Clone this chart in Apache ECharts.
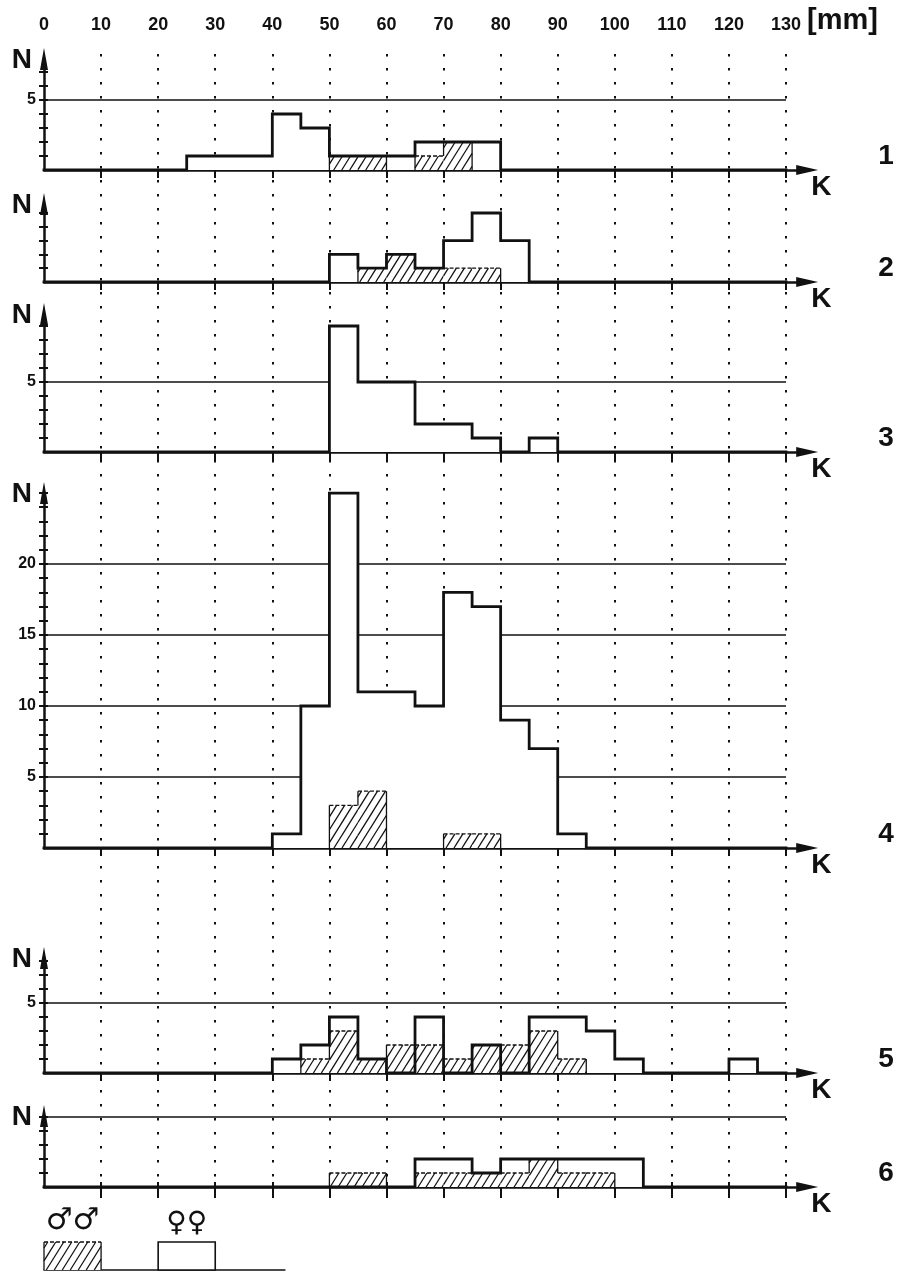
<!DOCTYPE html>
<html>
<head>
<meta charset="utf-8">
<script src="https://cdn.jsdelivr.net/npm/echarts@6/dist/echarts.min.js"></script>
<style>
html,body{margin:0;padding:0;background:#fff;}
#c{width:908px;height:1272px;}
</style>
</head>
<body>
<div id="c"></div>
<script>
// ---------------- DATA ----------------
const xTickValues = [0, 10, 20, 30, 40, 50, 60, 70, 80, 90, 100, 110, 120, 130];
const xTickLabels = ['0', '10', '20', '30', '40', '50', '60', '70', '80', '90', '100', '110', '120', '130'];
const unitLabel = '[mm]';
const binWidth = 5;
const binStarts = [0, 5, 10, 15, 20, 25, 30, 35, 40, 45, 50, 55, 60, 65, 70, 75, 80, 85, 90, 95, 100, 105, 110, 115, 120, 125];

// female (open bars) and male (hatched bars) counts per 5 mm bin
const p1Female = [0,0,0,0,0,1,1,1,4,3,1,1,1,2,2,2,0,0,0,0,0,0,0,0,0,0];
const p1Male   = [0,0,0,0,0,0,0,0,0,0,1,1,0,1,2,0,0,0,0,0,0,0,0,0,0,0];
const p2Female = [0,0,0,0,0,0,0,0,0,0,2,1,2,1,3,5,3,0,0,0,0,0,0,0,0,0];
const p2Male   = [0,0,0,0,0,0,0,0,0,0,0,1,2,1,1,1,0,0,0,0,0,0,0,0,0,0];
const p3Female = [0,0,0,0,0,0,0,0,0,0,9,5,5,2,2,1,0,1,0,0,0,0,0,0,0,0];
const p3Male   = [0,0,0,0,0,0,0,0,0,0,0,0,0,0,0,0,0,0,0,0,0,0,0,0,0,0];
const p4Female = [0,0,0,0,0,0,0,0,1,10,25,11,11,10,18,17,9,7,1,0,0,0,0,0,0,0];
const p4Male   = [0,0,0,0,0,0,0,0,0,0,3,4,0,0,1,1,0,0,0,0,0,0,0,0,0,0];
const p5Female = [0,0,0,0,0,0,0,0,1,2,4,1,0,4,0,2,0,4,4,3,1,0,0,0,1,0];
const p5Male   = [0,0,0,0,0,0,0,0,0,1,3,1,2,2,1,2,2,3,1,0,0,0,0,0,0,0];
const p6Female = [0,0,0,0,0,0,0,0,0,0,0,0,0,2,2,1,2,2,2,2,2,0,0,0,0,0];
const p6Male   = [0,0,0,0,0,0,0,0,0,0,1,1,0,1,1,1,1,2,1,1,0,0,0,0,0,0];

// y tick labels and horizontal reference lines per panel
const p1YLabels = [5],  p1Lines = [5];
const p2YLabels = [],   p2Lines = [];
const p3YLabels = [5],  p3Lines = [5];
const p4YLabels = [5, 10, 15, 20], p4Lines = [5, 10, 15, 20];
const p5YLabels = [5],  p5Lines = [5];
const p6YLabels = [],   p6Lines = [5];

const panelNames = ['1', '2', '3', '4', '5', '6'];
const yName = 'N';
const xName = 'K';
const legendLabels = ['\u2642\u2642', '\u2640\u2640'];
const legendMaleBin = [0, 10];
const legendFemaleBin = [20, 30];

// ---------------- LAYOUT ----------------
const W = 908, H = 1272;
const INK = '#111';
const FONT = '"Liberation Sans", Arial, sans-serif';
const X0 = 44;
const PXMM = 5.708;
const X_AXIS_END = 133.7;
const Y_ARROW = 22, X_ARROW = 22;
const HATCH_SLOPE = 1.6, HATCH_STEP = 8;

const panels = [
  {f: p1Female, m: p1Male, labels: p1YLabels, lines: p1Lines, tip: 48,   base: 170,  unit: 14},
  {f: p2Female, m: p2Male, labels: p2YLabels, lines: p2Lines, tip: 193,  base: 282,  unit: 13.8},
  {f: p3Female, m: p3Male, labels: p3YLabels, lines: p3Lines, tip: 303,  base: 452,  unit: 14},
  {f: p4Female, m: p4Male, labels: p4YLabels, lines: p4Lines, tip: 482,  base: 848,  unit: 14.2},
  {f: p5Female, m: p5Male, labels: p5YLabels, lines: p5Lines, tip: 947,  base: 1073, unit: 14},
  {f: p6Female, m: p6Male, labels: p6YLabels, lines: p6Lines, tip: 1105, base: 1187, unit: 14}
];

// ---------------- RENDERERS ----------------
function hatchRect(api, xs, xe, h, hp, hn) {
  const pb = api.coord([xs, 0]);
  const pt = api.coord([xe, h]);
  const x0 = pb[0], x1 = pt[0], yb = pb[1], yt = pt[1];
  const kids = [{type: 'rect', shape: {x: x0, y: yt, width: x1 - x0, height: yb - yt}, style: {fill: '#fff'}}];
  const m = HATCH_SLOPE, step = HATCH_STEP * m;
  const kmin = m * x0 + yt, kmax = m * x1 + yb;
  for (let k = Math.ceil(kmin / step) * step; k <= kmax; k += step) {
    const xa = Math.max(x0, (k - yb) / m), xb = Math.min(x1, (k - yt) / m);
    if (xb > xa + 0.3) {
      kids.push({type: 'line', shape: {x1: xa, y1: k - m * xa, x2: xb, y2: k - m * xb},
        style: {stroke: INK, lineWidth: 1.3}});
    }
  }
  kids.push({type: 'line', shape: {x1: x0, y1: yt, x2: x1, y2: yt}, style: {stroke: INK, lineWidth: 1.3, lineDash: [4, 2]}});
  if (hp < h) {
    const yy = api.coord([xs, hp])[1];
    kids.push({type: 'line', shape: {x1: x0, y1: yy, x2: x0, y2: yt}, style: {stroke: INK, lineWidth: 1.3}});
  }
  if (hn < h) {
    const yy = api.coord([xe, hn])[1];
    kids.push({type: 'line', shape: {x1: x1, y1: yy, x2: x1, y2: yt}, style: {stroke: INK, lineWidth: 1.3}});
  }
  return kids;
}

function maleRender(params, api) {
  return {type: 'group', children: hatchRect(api, api.value(0), api.value(1), api.value(2), api.value(3), api.value(4))};
}

function refLineRender(params, api) {
  const v = api.value(0);
  const a = api.coord([0, v]), b = api.coord([130, v]);
  return {type: 'line', shape: {x1: a[0], y1: a[1], x2: b[0], y2: b[1]}, style: {stroke: INK, lineWidth: 1.4}};
}

// ---------------- OPTION ----------------
const grids = [], xAxes = [], yAxes = [], series = [], graphics = [];

// master grid: top scale and dotted verticals
grids.push({left: X0, right: W - (X0 + 130 * PXMM), top: 54, bottom: H - 1198});
xAxes.push({
  gridIndex: 0, type: 'value', position: 'top', min: 0, max: 130, interval: 10,
  axisLine: {show: false},
  axisTick: {show: true, length: 16, customValues: xTickValues.slice(1), lineStyle: {color: INK, width: 2}},
  axisLabel: {show: true, margin: 20, customValues: xTickValues,
    formatter: v => xTickLabels[xTickValues.indexOf(v)],
    color: INK, fontSize: 18, fontWeight: 'bold', fontFamily: FONT},
  splitLine: {show: true, lineStyle: {color: INK, width: 2, type: [2.5, 11.5]}}
});
yAxes.push({gridIndex: 0, type: 'value', min: 0, max: 1, show: false});
graphics.push({type: 'text', x: 807, y: 21, z: 10,
  style: {text: unitLabel, font: 'bold 29px ' + FONT, align: 'left', verticalAlign: 'middle', fill: INK}});

panels.forEach((p, i) => {
  const g = i + 1;
  const axTop = p.tip + Y_ARROW / 2;
  const yMax = (p.base - axTop) / p.unit;
  const ticks = [];
  for (let t = 1; t <= Math.floor(yMax); t++) ticks.push(t);
  grids.push({left: X0, right: W - (X0 + X_AXIS_END * PXMM), top: axTop, height: p.base - axTop});
  xAxes.push({
    gridIndex: g, type: 'value', min: 0, max: X_AXIS_END, interval: 10,
    axisLine: {show: true, symbol: ['none', 'triangle'], symbolSize: [10, X_ARROW], lineStyle: {color: INK, width: 2.5}},
    axisTick: {show: true, length: 8, customValues: xTickValues.slice(1), lineStyle: {color: INK, width: 2}},
    axisLabel: {show: false}, splitLine: {show: false},
    name: xName, nameLocation: 'end', nameGap: 4,
    nameTextStyle: {color: INK, fontSize: 28, fontWeight: 'bold', fontFamily: FONT, align: 'left', verticalAlign: 'top', padding: [3, 0, 0, 0]}
  });
  yAxes.push({
    gridIndex: g, type: 'value', position: 'left', min: 0, max: yMax,
    axisLine: {show: true, symbol: ['none', 'triangle'], symbolSize: [8, Y_ARROW], lineStyle: {color: INK, width: 2.5}},
    axisTick: {show: true, length: 5, customValues: ticks, lineStyle: {color: INK, width: 2}},
    axisLabel: p.labels.length ? {show: true, customValues: p.labels, margin: 8, color: INK, fontSize: 16, fontWeight: 'bold', fontFamily: FONT} : {show: false},
    splitLine: {show: false},
    name: yName, nameLocation: 'end', nameGap: -1,
    nameTextStyle: {color: INK, fontSize: 28, fontWeight: 'bold', fontFamily: FONT, align: 'right', verticalAlign: 'middle', padding: [0, 12, 0, 0]}
  });
  yAxes.push({
    gridIndex: g, type: 'value', position: 'left', min: 0, max: yMax,
    axisLine: {show: false},
    axisTick: {show: true, inside: true, length: 4, customValues: ticks, lineStyle: {color: INK, width: 2}},
    axisLabel: {show: false}, splitLine: {show: false}
  });
  const yi = 2 * g - 1;
  const pts = binStarts.map((s, k) => [s, p.f[k]]);
  pts.push([130, 0]);
  const maleItems = [];
  binStarts.forEach((s, k) => {
    if (p.m[k] > 0) maleItems.push([s, s + binWidth, p.m[k], k > 0 ? p.m[k - 1] : 0, k < p.m.length - 1 ? p.m[k + 1] : 0]);
  });
  series.push({type: 'custom', xAxisIndex: g, yAxisIndex: yi, z: 1, silent: true, renderItem: refLineRender,
    data: p.lines.map(v => [v]), encode: {y: 0}});
  series.push({type: 'line', xAxisIndex: g, yAxisIndex: yi, z: 2, silent: true, step: 'end', showSymbol: false, symbol: 'none',
    data: pts, lineStyle: {width: 0}, areaStyle: {color: '#fff', opacity: 1}});
  series.push({type: 'custom', xAxisIndex: g, yAxisIndex: yi, z: 3, silent: true, renderItem: maleRender, data: maleItems});
  series.push({type: 'line', xAxisIndex: g, yAxisIndex: yi, z: 4, silent: true, step: 'end', showSymbol: false, symbol: 'none',
    data: pts, lineStyle: {width: 2.8, color: INK, cap: 'square', join: 'miter'}});
  graphics.push({type: 'text', x: 886, y: p.base - 14, z: 10,
    style: {text: panelNames[i], font: 'bold 28px ' + FONT, align: 'center', verticalAlign: 'middle', fill: INK}});
});

// legend grid
const LEG_MAX = 42.2;
grids.push({left: X0, width: LEG_MAX * PXMM, top: 1242, height: 28});
xAxes.push({gridIndex: 7, type: 'value', min: 0, max: LEG_MAX,
  axisLine: {show: true, lineStyle: {color: INK, width: 1.6}}, axisTick: {show: false}, axisLabel: {show: false}, splitLine: {show: false}});
yAxes.push({gridIndex: 7, type: 'value', min: 0, max: 2, show: false});
series.push({type: 'custom', xAxisIndex: 7, yAxisIndex: 13, z: 3, silent: true,
  data: [[legendMaleBin[0], legendMaleBin[1], 2]],
  renderItem: function (params, api) {
    const kids = hatchRect(api, api.value(0), api.value(1), api.value(2), 0, 0);
    const a = api.coord([(api.value(0) + api.value(1)) / 2, api.value(2)]);
    kids.push({type: 'text', x: a[0], y: a[1] - 6, style: {text: legendLabels[0], font: 'bold 30px "DejaVu Sans"', align: 'center', verticalAlign: 'bottom', fill: INK}});
    return {type: 'group', children: kids};
  }});
series.push({type: 'custom', xAxisIndex: 7, yAxisIndex: 13, z: 3, silent: true,
  data: [[legendFemaleBin[0], legendFemaleBin[1], 2]],
  renderItem: function (params, api) {
    const pb = api.coord([api.value(0), 0]), pt = api.coord([api.value(1), api.value(2)]);
    const a = api.coord([(api.value(0) + api.value(1)) / 2, api.value(2)]);
    return {type: 'group', children: [
      {type: 'rect', shape: {x: pb[0], y: pt[1], width: pt[0] - pb[0], height: pb[1] - pt[1]}, style: {fill: '#fff', stroke: INK, lineWidth: 1.6}},
      {type: 'text', x: a[0], y: a[1] - 4, style: {text: legendLabels[1], font: 'bold 28px "DejaVu Sans"', align: 'center', verticalAlign: 'bottom', fill: INK}}
    ]};
  }});

const chart = echarts.init(document.getElementById('c'), null, {renderer: 'canvas'});
chart.setOption({
  animation: false,
  backgroundColor: '#fff',
  grid: grids, xAxis: xAxes, yAxis: yAxes, series: series, graphic: graphics
});
</script>
</body>
</html>
